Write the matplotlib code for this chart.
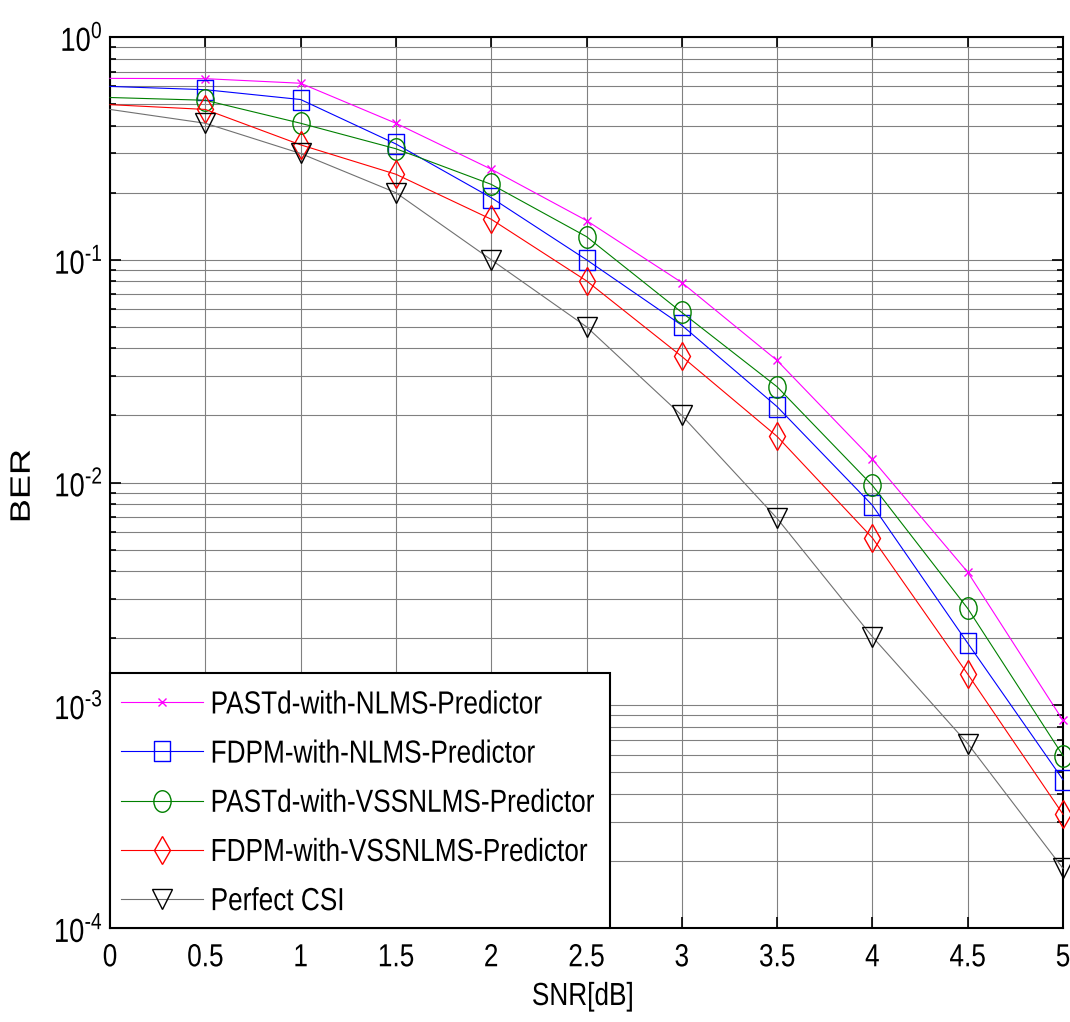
import numpy as np
import matplotlib
matplotlib.use('Agg')
import matplotlib.pyplot as plt
from matplotlib.ticker import LogLocator, NullFormatter, FuncFormatter
from matplotlib.patheffects import AbstractPathEffect
from matplotlib.transforms import Affine2D
from matplotlib.path import Path
from matplotlib.patches import Rectangle

plt.rcParams['font.family'] = ['Liberation Sans', 'DejaVu Sans']
plt.rcParams['mathtext.fontset'] = 'custom'
plt.rcParams['mathtext.rm'] = 'Liberation Sans'

snr = [0, 0.5, 1, 1.5, 2, 2.5, 3, 3.5, 4, 4.5, 5]

pastd_nlms = [0.652, 0.65, 0.62, 0.41, 0.255, 0.15, 0.079, 0.0353, 0.0127, 0.00396, 0.000855]
fdpm_nlms = [0.60, 0.58, 0.524, 0.331, 0.19, 0.10, 0.0508, 0.0219, 0.0079, 0.0019, 0.000463]
pastd_vss = [0.535, 0.52, 0.41, 0.315, 0.218, 0.127, 0.058, 0.0269, 0.0097, 0.00272, 0.000594]
fdpm_vss = [0.497, 0.473, 0.328, 0.242, 0.152, 0.0804, 0.0368, 0.0161, 0.00564, 0.00138, 0.000324]
perfect_csi = [0.473, 0.41, 0.30, 0.20, 0.10, 0.05, 0.02, 0.0069, 0.00203, 0.000673, 0.000185]

labels = ['PASTd-with-NLMS-Predictor', 'FDPM-with-NLMS-Predictor',
          'PASTd-with-VSSNLMS-Predictor', 'FDPM-with-VSSNLMS-Predictor', 'Perfect CSI']
xtick_labels = ['0', '0.5', '1', '1.5', '2', '2.5', '3', '3.5', '4', '4.5', '5']


class Squish(AbstractPathEffect):
    # the original figure was squeezed sideways, so the text looks condensed
    def __init__(self, sx=0.82, sy=1.0, anchor='center'):
        super().__init__()
        self.sx, self.sy, self.anchor = sx, sy, anchor

    def draw_path(self, renderer, gc, tpath, affine, rgbFace=None):
        if len(tpath.vertices) == 0:
            return
        ext = tpath.get_extents()
        if self.anchor == 'left':
            x0 = 0
        elif self.anchor == 'right':
            x0 = ext.x1
        else:
            x0 = (ext.x0 + ext.x1) / 2
        y0 = (ext.y0 + ext.y1) / 2
        t = Affine2D().translate(-x0, -y0).scale(self.sx, self.sy).translate(x0, y0)
        renderer.draw_path(gc, tpath, t + affine, rgbFace)


# narrow markers (ellipse / tall box) like in the squeezed original
ellipse = Path.unit_circle().transformed(Affine2D().scale(0.8, 1.0))
tall_box = Path([(-0.4, -0.5), (0.4, -0.5), (0.4, 0.5), (-0.4, 0.5), (-0.4, -0.5)],
                [Path.MOVETO, Path.LINETO, Path.LINETO, Path.LINETO, Path.CLOSEPOLY])

fig = plt.figure(figsize=(10.7, 10.22), dpi=100)
ax = fig.add_axes([110 / 1070, 94 / 1022, 953 / 1070, 891 / 1022])

series = [
    (pastd_nlms, '#ff00ff', 'x', 6),
    (fdpm_nlms, '#0000ff', tall_box, 15),
    (pastd_vss, '#008000', ellipse, 15.5),
    (fdpm_vss, '#ff0000', 'd', 14),
    (perfect_csi, '#000000', 'v', 15),
]

for (vals, col, mk, ms), lab in zip(series, labels):
    lc = '#707070' if col == '#000000' else col
    ax.semilogy(snr, vals, color=lc, lw=0.8, marker=mk, ms=ms, mfc='none',
                mec=col, mew=1.0, markevery=list(range(1, len(snr))), label=lab,
                clip_on=False, zorder=3)

ax.set_xlim(0, 5)
ax.set_ylim(1e-4, 1)
ax.set_xticks(np.arange(0, 5.01, 0.5))
ax.set_xticklabels(xtick_labels)
ax.yaxis.set_major_locator(LogLocator(base=10, numticks=10))
ax.yaxis.set_minor_locator(LogLocator(base=10, subs=np.arange(2, 10), numticks=10))
ax.yaxis.set_minor_formatter(NullFormatter())


def decade_label(v, pos):
    e = int(round(np.log10(v)))
    if e < 0:
        return r'$10^{\text{-}%d}$' % (-e)
    return r'$10^{%d}$' % e


ax.yaxis.set_major_formatter(FuncFormatter(decade_label))

ax.grid(True, which='major', color='#808080', lw=0.8)
ax.grid(True, which='minor', axis='y', color='#808080', lw=0.8)
ax.tick_params(which='both', direction='in', top=True, right=True, labelsize=23, width=1.2)
ax.tick_params(which='major', length=8)
ax.tick_params(axis='x', which='major', pad=11)
ax.tick_params(axis='y', which='major', pad=5, labelsize=24)
ax.tick_params(which='minor', length=4)
for s in ax.spines.values():
    s.set_linewidth(1.5)

fig.text(583 / 1070, 1 - 997 / 1022, 'SNR[dB]', fontsize=23, ha='center', va='center',
         path_effects=[Squish(0.82, 1.0, 'center')])
fig.text(23 / 1070, 1 - 486 / 1022, 'BER', fontsize=26, rotation=90, ha='center', va='center',
         path_effects=[Squish(1.0, 0.78, 'center')])

# legend frame drawn by hand so it fits the condensed text
ax.add_patch(Rectangle((0, 0), 500 / 953, 255 / 891, transform=ax.transAxes,
                       facecolor='white', edgecolor='black', lw=1.5, zorder=4, clip_on=False))
leg = ax.legend(loc='lower left', fontsize=23, frameon=False, borderaxespad=0,
                handlelength=2.56, handletextpad=0.25, labelspacing=0.6,
                borderpad=0.34)
leg.set_zorder(5)
for t in leg.get_texts():
    t.set_path_effects([Squish(0.82, 1.0, 'left')])

fig.canvas.draw()
for lab in ax.get_xticklabels():
    lab.set_path_effects([Squish(0.82, 1.0, 'center')])
for lab in ax.get_yticklabels():
    lab.set_path_effects([Squish(0.82, 1.0, 'right')])

fig.savefig('out.png', dpi=100)
